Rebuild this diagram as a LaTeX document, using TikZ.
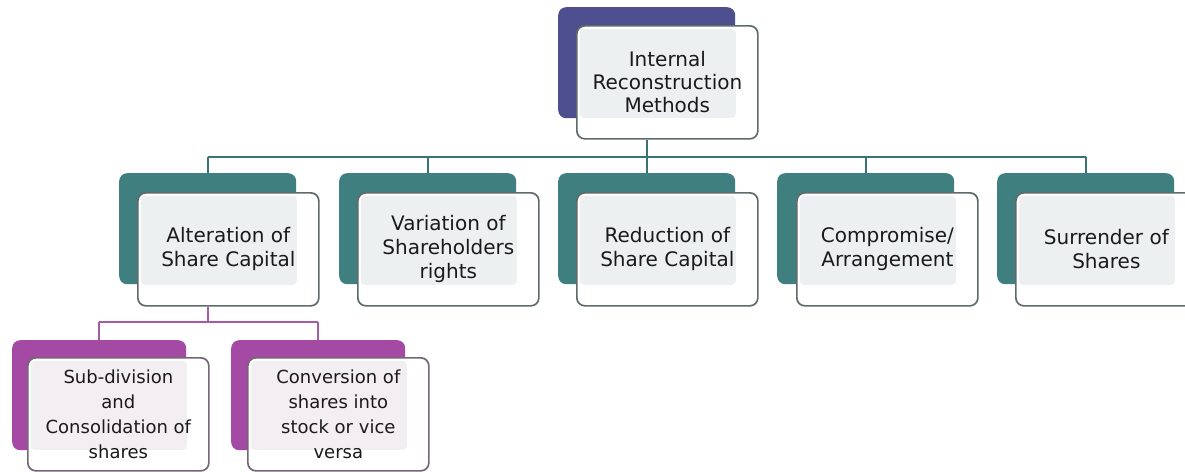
\documentclass[tikz,border=0pt]{standalone}
\usepackage{fontspec}
\setmainfont{DejaVu Sans}
\usetikzlibrary{calc}
\definecolor{tealdark}{HTML}{3F7F80}
\definecolor{indigodark}{HTML}{4D4F8F}
\definecolor{magdark}{HTML}{A449A4}
\definecolor{tealline}{HTML}{3A7375}
\definecolor{magline}{HTML}{A85AA8}
\definecolor{innergray}{HTML}{EDF0F1}
\definecolor{innerpink}{HTML}{F2EEF2}
\definecolor{bordgray}{HTML}{5E6A6C}
\definecolor{bordmag}{HTML}{756675}
\definecolor{txt}{HTML}{1A1A1A}
\begin{document}
\begin{tikzpicture}[x=1pt,y=-1pt,
  back/.style={fill=#1, rounded corners=8pt, minimum width=177pt, minimum height=111pt, inner sep=0pt, anchor=north west},
  backsm/.style={fill=#1, rounded corners=8pt, minimum width=174pt, minimum height=110pt, inner sep=0pt, anchor=north west},
  front/.style 2 args={draw=#1, line width=1.7pt, fill=white, rounded corners=8pt,
    minimum width=181pt, minimum height=113pt, inner sep=0pt, anchor=north west,
    align=center, text=txt,
    path picture={\fill[#2, rounded corners=4pt]
      ($(path picture bounding box.north west)+(3pt,-3pt)$) rectangle
      ($(path picture bounding box.south east)+(-22pt,21pt)$);}},
  bigtxt/.style={font=\fontsize{20}{24}\selectfont},
  toptxt/.style={font=\fontsize{20}{23}\selectfont},
  smalltxt/.style={font=\fontsize{18}{25}\selectfont},
  tconn/.style={draw=tealline, line width=1.7pt},
  mconn/.style={draw=magline, line width=1.7pt}
]
\useasboundingbox (0,0) rectangle (1185,471);
\fill[white] (0,0) rectangle (1185,471);

% top
\node[back=indigodark] (d0) at (558,7) {};
\node[front={bordgray}{innergray}, toptxt] (t0) at (576,25) {Internal\\Reconstruction\\Methods};

% level 2
\node[back=tealdark] (d1) at (119,173) {};
\node[front={bordgray}{innergray}, bigtxt] (t1) at (137,192) {Alteration of\\Share Capital};
\node[back=tealdark] (d2) at (339,173) {};
\node[front={bordgray}{innergray}, bigtxt] (t2) at (357,192) {Variation of\\Shareholders\\rights};
\node[back=tealdark] (d3) at (558,173) {};
\node[front={bordgray}{innergray}, bigtxt] (t3) at (576,192) {Reduction of\\Share Capital};
\node[back=tealdark] (d4) at (777,173) {};
\node[front={bordgray}{innergray}, bigtxt] (t4) at (796,192) {Compromise/\\Arrangement};
\node[back=tealdark] (d5) at (997,173) {};
\node[front={bordgray}{innergray}, bigtxt] (t5) at (1015,192) {Surrender of\\Shares};

% level 3
\node[backsm=magdark] (e1) at (12,340) {};
\node[front={bordmag}{innerpink}, smalltxt] (s1) at (27,357) {Sub-division\\and\\Consolidation of\\shares};
\node[backsm=magdark] (e2) at (231,340) {};
\node[front={bordmag}{innerpink}, smalltxt] (s2) at (247,357) {Conversion of\\shares into\\stock or vice\\versa};

% connectors level 1 -> 2
\coordinate (bus) at (0,157);
\draw[tconn] (t0.south -| d0.south) -- (d0.south |- bus);
\draw[tconn] (d1.north |- bus) -- (d5.north |- bus);
\draw[tconn] (d1.north |- bus) -- (d1.north);
\draw[tconn] (d2.north |- bus) -- (d2.north);
\draw[tconn] (d3.north |- bus) -- (d3.north);
\draw[tconn] (d4.north |- bus) -- (d4.north);
\draw[tconn] (d5.north |- bus) -- (d5.north);

% connectors level 2 -> 3
\coordinate (bus2) at (0,322);
\draw[mconn] (t1.south -| d1.south) -- (d1.south |- bus2);
\draw[mconn] (e1.north |- bus2) -- (e2.north |- bus2);
\draw[mconn] (e1.north |- bus2) -- (e1.north);
\draw[mconn] (e2.north |- bus2) -- (e2.north);
\end{tikzpicture}
\end{document}
